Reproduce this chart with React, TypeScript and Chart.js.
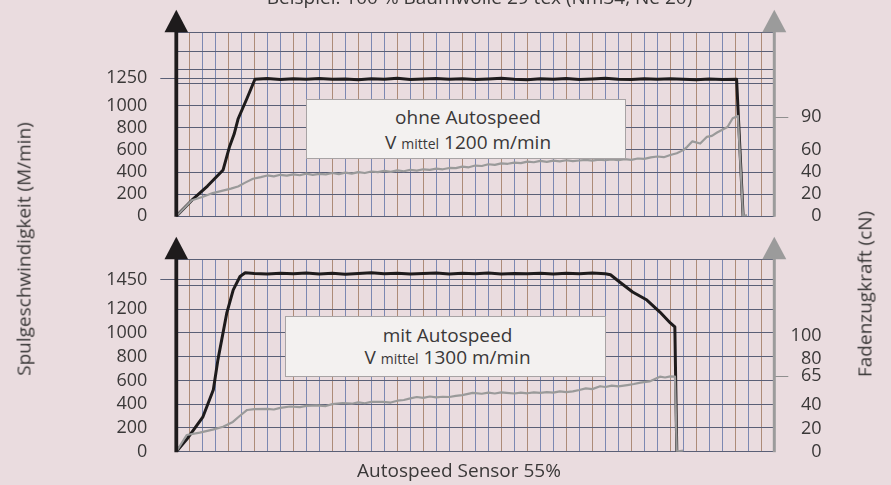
import React, { useEffect, useRef } from 'react';
import { Chart, registerables } from 'chart.js';

Chart.register(...registerables);

// ---------- DATA ----------
// x = time in chart-paper divisions (0 .. 46)
const X_DIVISIONS = 46;

// Upper panel: ohne Autospeed
const topSpeedX = [0, 1.2, 2.4, 3.6, 4.1, 4.45, 4.75, 5.45, 6.05, 7, 8, 9, 10, 11, 12, 13, 14, 15, 16, 17, 18, 19, 20, 21, 22, 23, 24, 25, 26, 27, 28, 29, 30, 31, 32, 33, 34, 35, 36, 37, 38, 39, 40, 41, 42, 43.1, 43.6];
const topSpeedY = [0, 145, 273, 419, 632, 744, 880, 1070, 1240, 1246, 1238, 1244, 1241, 1247, 1239, 1243, 1236, 1245, 1240, 1248, 1237, 1243, 1246, 1239, 1244, 1237, 1242, 1248, 1240, 1236, 1245, 1241, 1247, 1238, 1243, 1249, 1241, 1237, 1244, 1239, 1245, 1240, 1236, 1242, 1238, 1240, 0];

const topForceX = [0, 0.5, 1.2, 2, 2.8, 3.5, 4.2, 4.75, 5.3, 5.9, 6.5, 7, 7.5, 8, 8.5, 9, 9.5, 10, 10.5, 11, 11.5, 12, 12.5, 13, 13.5, 14, 14.5, 15, 15.5, 16, 16.5, 17, 17.5, 18, 18.5, 19, 19.5, 20, 20.5, 21, 21.5, 22, 22.5, 23, 23.5, 24, 24.5, 25, 25.5, 26, 26.5, 27, 27.5, 28, 28.5, 29, 29.5, 30, 30.5, 31, 31.5, 32, 32.5, 33, 33.5, 34, 34.5, 35, 35.5, 36, 36.5, 37, 37.5, 38, 38.5, 39, 39.3, 39.7, 40.3, 40.8, 41.2, 41.6, 42, 42.4, 42.8, 43.2, 43.6, 43.9];
const topForceY = [0, 6, 14.5, 17.5, 21, 23, 25, 27, 30.5, 34, 35.5, 37, 36.2, 37.6, 36.8, 38, 37.2, 38.6, 37.6, 38.4, 38, 39.2, 38.2, 39.6, 38.6, 40, 39.2, 40.6, 40, 41.2, 40.2, 41.6, 40.8, 42, 41.4, 42.6, 42, 43.2, 42.6, 43.8, 43.6, 45, 44.4, 46, 45.6, 47.2, 46.6, 48, 47.6, 48.6, 48.2, 49.6, 49, 50.2, 49.4, 50.4, 49.8, 50.8, 50, 50.6, 51.2, 50.4, 51.4, 50.8, 51.6, 51, 51.8, 51.2, 52.4, 52, 53.4, 54.2, 53.6, 55.6, 57.2, 60, 63, 68, 66, 72, 73, 76, 78.5, 81, 89, 91, 0, 1];

// Lower panel: mit Autospeed
const bottomSpeedX = [0, 0.9, 2.05, 2.85, 3.2, 3.88, 4.38, 4.9, 5.3, 6, 7, 8, 9, 10, 11, 12, 13, 14, 15, 16, 17, 18, 19, 20, 21, 22, 23, 24, 25, 26, 27, 28, 29, 30, 31, 32, 33, 33.4, 34.1, 35.1, 36.2, 37.2, 38, 38.35, 38.5];
const bottomSpeedY = [0, 118, 294, 521, 773, 1166, 1363, 1475, 1506, 1500, 1496, 1503, 1498, 1505, 1497, 1502, 1495, 1501, 1506, 1498, 1503, 1496, 1500, 1504, 1497, 1502, 1499, 1505, 1496, 1501, 1498, 1503, 1497, 1502, 1499, 1504, 1498, 1490, 1429, 1345, 1277, 1176, 1084, 1050, 0];

const bottomForceX = [0, 0.8, 1.8, 2.8, 3.6, 4.35, 4.9, 5.45, 6, 7, 7.5, 8, 8.75, 9.5, 10, 10.8, 11.5, 12, 12.8, 13.5, 14, 14.5, 15, 15.9, 16.5, 17, 17.5, 18, 18.5, 19, 19.5, 20, 20.5, 21, 21.5, 22, 22.8, 23.5, 24, 24.5, 25, 25.4, 26, 26.5, 27, 27.5, 28, 28.5, 29, 29.5, 30, 30.5, 31, 31.5, 32, 32.6, 33, 33.5, 34, 34.7, 35.2, 35.7, 36.4, 37.2, 37.6, 38, 38.36, 38.5, 39];
const bottomForceY = [0, 14.4, 16.4, 19, 21.5, 25.7, 31, 36, 36.8, 37, 36.4, 37.8, 39, 38.4, 39.6, 40, 39.4, 41, 42, 41.4, 42.6, 41.8, 43, 43, 42.4, 44, 44.6, 46, 47.2, 46.4, 47.6, 46.8, 47.4, 47.2, 48.2, 48.8, 50.8, 50, 51, 50.2, 51.2, 50.8, 50.2, 51, 50.4, 51.2, 50.8, 51.4, 51, 52, 51.4, 52, 53.2, 54.6, 54, 56.5, 55.8, 57, 56.4, 57.5, 58.4, 59.6, 60.6, 64.7, 64, 65, 64.7, 0, 1];

// Axis ticks
const topLeftGrid = [0, 200, 400, 600, 800, 1000, 1200, 1250, 1330, 1495, 1665];
const topLeftLabels = [0, 200, 400, 600, 800, 1000, 1250];
const topRightTicks = [0, 20, 40, 60, 90];
const bottomLeftGrid = [0, 200, 400, 600, 800, 1000, 1200, 1400, 1450, 1620];
const bottomLeftLabels = [0, 200, 400, 600, 800, 1000, 1200, 1450];
const bottomRightTicks = [0, 20, 40, 65, 80, 100];

// ---------- STYLE ----------
const BG = '#eadcdf';
const TEXT = '#3a3838';
const HLINE = '#5a5f76';
const VBLUE = '#7c88b2';
const VBROWN = '#ad8b78';
const SPEED = '#1e1b1c';
const FORCE = '#9a9a9a';
const FONT = '"Open Sans", "Noto Sans", sans-serif';
const BROWN_COLS = [1, 4, 6, 9, 12, 14, 17, 19, 22, 25, 27, 30, 32, 35, 38, 40, 43, 45];

const PLOT_LEFT = 176.3;
const PLOT_RIGHT = 774.3;
const RIGHT_LABEL_EDGE = 821.5;
const W = 891;

const axesPlugin = {
  id: 'axesArrows',
  afterDatasetsDraw(chart: any) {
    const { ctx, chartArea } = chart;
    const xs = chart.scales.x;
    const xl = xs.getPixelForValue(xs.min);
    const xr = xs.getPixelForValue(xs.max);
    const top = chartArea.top;
    const bottom = chartArea.bottom;
    const ah = 22.5;
    const draw = (x: number, color: string, lw: number, aw: number) => {
      ctx.save();
      ctx.strokeStyle = color;
      ctx.lineWidth = lw;
      ctx.beginPath();
      ctx.moveTo(x, bottom + 0.5);
      ctx.lineTo(x, top - ah + 8);
      ctx.stroke();
      ctx.fillStyle = color;
      ctx.beginPath();
      ctx.moveTo(x, top - ah);
      ctx.lineTo(x + aw, top);
      ctx.lineTo(x - aw, top);
      ctx.closePath();
      ctx.fill();
      ctx.restore();
    };
    draw(xr, '#9b9b9b', 3, 12);
    draw(xl, '#1e1b1c', 3.8, 11.8);
  },
};

type Panel = {
  speedX: number[];
  speedY: number[];
  forceX: number[];
  forceY: number[];
  leftMax: number;
  rightMax: number;
  leftGrid: number[];
  leftLabels: number[];
  leftMark: number;
  rightTicks: number[];
  rightMark: number;
  padTop: number;
  padBottom: number;
};

function makeConfig(p: Panel): any {
  const tickFont = { family: FONT, size: 18 };
  return {
    type: 'line',
    data: {
      datasets: [
        {
          data: p.forceX.map((x, i) => ({ x, y: p.forceY[i] })),
          yAxisID: 'y1',
          borderColor: FORCE,
          borderWidth: 2.2,
          pointRadius: 0,
          borderJoinStyle: 'round',
          fill: false,
        },
        {
          data: p.speedX.map((x, i) => ({ x, y: p.speedY[i] })),
          yAxisID: 'y',
          borderColor: SPEED,
          borderWidth: 3,
          pointRadius: 0,
          borderJoinStyle: 'round',
          fill: false,
        },
      ],
    },
    options: {
      animation: false,
      responsive: false,
      maintainAspectRatio: false,
      events: [],
      layout: { padding: { top: p.padTop, bottom: p.padBottom, left: 0, right: W - RIGHT_LABEL_EDGE } },
      plugins: { legend: { display: false }, tooltip: { enabled: false }, title: { display: false } },
      scales: {
        x: {
          type: 'linear',
          min: 0,
          max: X_DIVISIONS,
          afterBuildTicks: (s: any) => {
            s.ticks = Array.from({ length: X_DIVISIONS + 1 }, (_, i) => ({ value: i }));
          },
          afterFit: (s: any) => {
            s.height = 0;
          },
          ticks: { display: false },
          grid: {
            drawTicks: false,
            lineWidth: 1,
            color: (c: any) => {
              const v = c.tick ? c.tick.value : -1;
              if (v <= 0 || v >= X_DIVISIONS) return 'transparent';
              return BROWN_COLS.includes(v) ? VBROWN : VBLUE;
            },
          },
          border: { display: false },
        },
        y: {
          type: 'linear',
          position: 'left',
          min: 0,
          max: p.leftMax,
          afterBuildTicks: (s: any) => {
            s.ticks = p.leftGrid.map((v) => ({ value: v }));
          },
          afterFit: (s: any) => {
            s.width = PLOT_LEFT;
          },
          ticks: {
            autoSkip: false,
            padding: 13,
            font: tickFont,
            color: TEXT,
            callback: (v: any) => (p.leftLabels.includes(Number(v)) ? String(v) : ''),
          },
          grid: {
            color: HLINE,
            lineWidth: 1,
            drawTicks: true,
            tickLength: 16,
            tickWidth: 1,
            tickColor: (c: any) => (c.tick && c.tick.value === p.leftMark ? HLINE : 'transparent'),
          },
          border: { display: false },
        },
        y1: {
          type: 'linear',
          position: 'right',
          min: 0,
          max: p.rightMax,
          afterBuildTicks: (s: any) => {
            s.ticks = p.rightTicks.map((v) => ({ value: v }));
          },
          afterFit: (s: any) => {
            s.width = RIGHT_LABEL_EDGE - PLOT_RIGHT;
          },
          ticks: {
            autoSkip: false,
            padding: 2,
            crossAlign: 'far',
            font: tickFont,
            color: TEXT,
          },
          grid: {
            drawOnChartArea: false,
            drawTicks: true,
            tickLength: 14,
            tickWidth: 1,
            tickColor: (c: any) => (c.tick && c.tick.value === p.rightMark ? '#8f8f8f' : 'transparent'),
          },
          border: { display: false },
        },
      },
    },
    plugins: [axesPlugin],
  };
}

const TOP_H = 240;
const BOT_TOP = 235;
const BOT_H = 250;

function Txt(props: { cx: number; baseline: number; size?: number; children: React.ReactNode }) {
  const size = props.size ?? 19;
  const off = size * 0.889;
  return (
    <div
      style={{
        position: 'absolute',
        left: props.cx,
        top: props.baseline - off,
        transform: 'translateX(-50%)',
        whiteSpace: 'nowrap',
        fontSize: size,
        lineHeight: size + 'px',
      }}
    >
      {props.children}
    </div>
  );
}

function RotTxt(props: { cx: number; cy: number; children: React.ReactNode }) {
  return (
    <div
      style={{
        position: 'absolute',
        left: props.cx,
        top: props.cy,
        transform: 'translate(-50%, -50%) rotate(-90deg)',
        whiteSpace: 'nowrap',
        fontSize: 19,
        lineHeight: '19px',
      }}
    >
      {props.children}
    </div>
  );
}

const boxStyle = (left: number, top: number, width: number, height: number): React.CSSProperties => ({
  position: 'absolute',
  left,
  top,
  width,
  height,
  boxSizing: 'border-box',
  background: '#f3f1f0',
  border: '1px solid #a7a3a4',
});

export default function App() {
  const topRef = useRef<HTMLCanvasElement>(null);
  const botRef = useRef<HTMLCanvasElement>(null);

  useEffect(() => {
    const c1 = new Chart(
      topRef.current as HTMLCanvasElement,
      makeConfig({
        speedX: topSpeedX,
        speedY: topSpeedY,
        forceX: topForceX,
        forceY: topForceY,
        leftMax: 1665,
        rightMax: 167,
        leftGrid: topLeftGrid,
        leftLabels: topLeftLabels,
        leftMark: 1250,
        rightTicks: topRightTicks,
        rightMark: 90,
        padTop: 32.3,
        padBottom: TOP_H - 226.7,
      })
    );
    const c2 = new Chart(
      botRef.current as HTMLCanvasElement,
      makeConfig({
        speedX: bottomSpeedX,
        speedY: bottomSpeedY,
        forceX: bottomForceX,
        forceY: bottomForceY,
        leftMax: 1620,
        rightMax: 166,
        leftGrid: bottomLeftGrid,
        leftLabels: bottomLeftLabels,
        leftMark: 1450,
        rightTicks: bottomRightTicks,
        rightMark: 65,
        padTop: 259.3 - BOT_TOP,
        padBottom: BOT_TOP + BOT_H - 451.7,
      })
    );
    return () => {
      c1.destroy();
      c2.destroy();
    };
  }, []);

  return (
    <div
      style={{
        position: 'fixed',
        left: 0,
        top: 0,
        width: W,
        height: 485,
        overflow: 'hidden',
        background: BG,
        fontFamily: FONT,
        color: TEXT,
      }}
    >
      <canvas
        ref={topRef}
        width={W}
        height={TOP_H}
        style={{ position: 'absolute', left: 0, top: 0, width: W, height: TOP_H }}
      />
      <canvas
        ref={botRef}
        width={W}
        height={BOT_H}
        style={{ position: 'absolute', left: 0, top: BOT_TOP, width: W, height: BOT_H }}
      />

      <Txt cx={479.5} baseline={5}>Beispiel: 100 % Baumwolle 29 tex (Nm34, Ne 20)</Txt>

      <div style={boxStyle(306, 99, 320, 60)} />
      <Txt cx={468} baseline={124.5}>ohne Autospeed</Txt>
      <Txt cx={468} baseline={150}>
        V <span style={{ fontSize: 14 }}>mittel</span> 1200 m/min
      </Txt>

      <div style={boxStyle(285, 316, 321, 61)} />
      <Txt cx={447.5} baseline={342.7}>mit Autospeed</Txt>
      <Txt cx={447.5} baseline={365}>
        V <span style={{ fontSize: 14 }}>mittel</span> 1300 m/min
      </Txt>

      <RotTxt cx={23.5} cy={249}>Spulgeschwindigkeit (M/min)</RotTxt>
      <RotTxt cx={865} cy={294}>Fadenzugkraft (cN)</RotTxt>
      <Txt cx={459} baseline={478}>Autospeed Sensor 55%</Txt>
    </div>
  );
}
